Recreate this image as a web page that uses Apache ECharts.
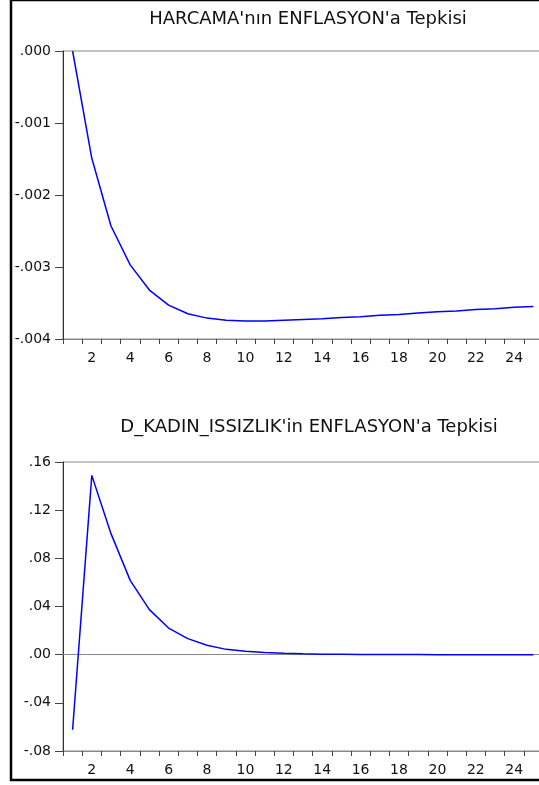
<!DOCTYPE html>
<html>
<head>
<meta charset="utf-8">
<script src="https://cdn.jsdelivr.net/npm/echarts@6/dist/echarts.min.js"></script>
<style>html,body{margin:0;padding:0;background:#fff}#c{width:539px;height:785px}</style>
</head>
<body>
<div id="c"></div>
<script>
const periods = ['1','2','3','4','5','6','7','8','9','10','11','12','13','14','15','16','17','18','19','20','21','22','23','24','25'];
const titleTop = "HARCAMA'nın ENFLASYON'a Tepkisi";
const titleBottom = "D_KADIN_ISSIZLIK'in ENFLASYON'a Tepkisi";
const harcama = [0, -0.00149, -0.00243, -0.00297, -0.00332, -0.00353, -0.00365, -0.00371, -0.00374, -0.00375,
  -0.00375, -0.00374, -0.00373, -0.00372, -0.00370, -0.00369, -0.00367, -0.00366, -0.00364, -0.00362,
  -0.00361, -0.00359, -0.00358, -0.00356, -0.00355];
const kadin = [-0.0623, 0.1489, 0.1005, 0.0617, 0.0374, 0.0221, 0.0133, 0.0078, 0.0044, 0.0028,
  0.0018, 0.0011, 0.0007, 0.0004, 0.0003, 0.0002, 0.0001, 0.0001, 0.0001, 0.0000,
  0.0000, 0.0000, 0.0000, 0.0000, 0.0000];
const topAxis = {min: -0.004, max: 0, interval: 0.001, decimals: 3};
const bottomAxis = {min: -0.08, max: 0.16, interval: 0.04, decimals: 2};

const FONT = 'DejaVu Sans';
function fmt(d) {
  return function (v) {
    let s = Math.abs(v).toFixed(d).replace(/^0/, '');
    return (v < -1e-12 ? '-' : '') + s;
  };
}
function xAx(gi) {
  return {
    type: 'category', gridIndex: gi, data: periods, boundaryGap: true,
    axisLine: {show: true, onZero: false, lineStyle: {color: '#888', width: 1}},
    axisTick: {show: true, interval: 0, length: 5, lineStyle: {color: '#444'}},
    axisLabel: {interval: (i) => i % 2 === 1, color: '#111', fontFamily: FONT, fontSize: 14, margin: 12},
    splitLine: {show: false}
  };
}
function zeroAx(gi) {
  return {
    type: 'category', gridIndex: gi, data: periods, boundaryGap: true,
    axisLine: {show: true, onZero: true, lineStyle: {color: '#888', width: 1}},
    axisTick: {show: false}, axisLabel: {show: false}, splitLine: {show: false}
  };
}
function yAx(gi, a) {
  return {
    type: 'value', gridIndex: gi, min: a.min, max: a.max, interval: a.interval,
    axisLine: {show: true, onZero: false, lineStyle: {color: '#333', width: 1}},
    axisTick: {show: true, length: 8, lineStyle: {color: '#444'}},
    axisLabel: {formatter: fmt(a.decimals), color: '#111', fontFamily: FONT, fontSize: 14, margin: 12},
    splitLine: {show: false}
  };
}
function ser(gi, data) {
  return {
    type: 'line', xAxisIndex: gi, yAxisIndex: gi, data: data, symbol: 'none',
    lineStyle: {color: '#0000ff', width: 1.5}, animation: false
  };
}
const chart = echarts.init(document.getElementById('c'));
chart.setOption({
  animation: false,
  backgroundColor: '#fff',
  title: [
    {text: titleTop, left: 303, top: 5, textAlign: 'center',
      textStyle: {fontFamily: FONT, fontSize: 18, fontWeight: 'normal', color: '#111'}},
    {text: titleBottom, left: 304, top: 413, textAlign: 'center',
      textStyle: {fontFamily: FONT, fontSize: 18, fontWeight: 'normal', color: '#111'}}
  ],
  grid: [
    {left: 63, top: 51, width: 480, height: 288, outerBoundsMode: 'none', show: true, borderColor: '#888', borderWidth: 1, backgroundColor: 'transparent'},
    {left: 63, top: 462, width: 480, height: 289, outerBoundsMode: 'none', show: true, borderColor: '#888', borderWidth: 1, backgroundColor: 'transparent'}
  ],
  xAxis: [xAx(0), xAx(1), zeroAx(1)],
  yAxis: [yAx(0, topAxis), yAx(1, bottomAxis)],
  series: [ser(0, harcama), ser(1, kadin)],
  graphic: [
    {type: 'line', shape: {x1: 11, y1: 0, x2: 11, y2: 781}, style: {stroke: '#000', lineWidth: 2.5}},
    {type: 'line', shape: {x1: 10, y1: 0.5, x2: 539, y2: 0.5}, style: {stroke: '#000', lineWidth: 1.5}},
    {type: 'line', shape: {x1: 10, y1: 780, x2: 539, y2: 780}, style: {stroke: '#000', lineWidth: 2.5}}
  ]
});
</script>
</body>
</html>
